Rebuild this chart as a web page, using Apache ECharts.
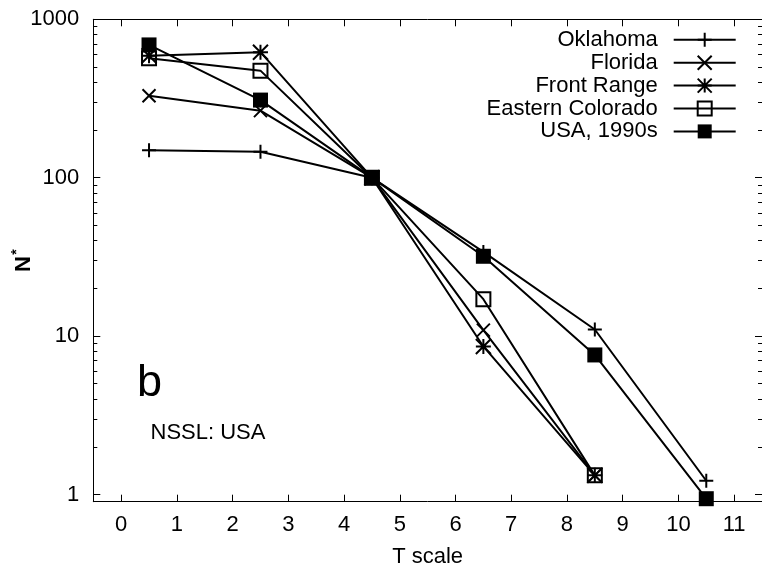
<!DOCTYPE html>
<html>
<head>
<meta charset="utf-8">
<script src="https://cdn.jsdelivr.net/npm/echarts@6/dist/echarts.min.js"></script>
<style>
html,body{margin:0;padding:0;background:#fff;}
#chart{width:762px;height:575px;}
</style>
</head>
<body>
<div id="chart"></div>
<script>
// ---- data ----
const tScale = [0.5, 2.5, 4.5, 6.5, 8.5, 10.5];
const xTicks = [0, 1, 2, 3, 4, 5, 6, 7, 8, 9, 10, 11];
const yTicks = [1, 10, 100, 1000];
const seriesNames = ['Oklahoma', 'Florida', 'Front Range', 'Eastern Colorado', 'USA, 1990s'];
const oklahoma = [149, 146, 100, 34, 11.0, 1.22];
const florida = [329, 265, 100, 10.9, 1.32];
const frontRange = [588, 620, 100, 8.6, 1.32];
const easternColorado = [568, 474, 100, 17.1, 1.32];
const usa1990s = [689, 309, 100, 31.9, 7.6, 0.94];

const FONT = 'Liberation Sans, Arial, Helvetica, sans-serif';
const chart = echarts.init(document.getElementById('chart'), null, {renderer: 'canvas'});

const PLUS = 'path://M0,-1L0,1M-1,0L1,0';
const CROSS = 'path://M-1,-1L1,1M-1,1L1,-1';
const STAR = 'path://M0,-1L0,1M-1,0L1,0M-1,-1L1,1M-1,1L1,-1';
const SQUARE = 'path://M-1,-1L1,-1L1,1L-1,1Z';

function mk(name, vals, symbol, size, style) {
  return {
    type: 'line',
    name: name,
    data: vals.map((v, i) => [tScale[i], v]),
    symbol: symbol,
    symbolSize: size,
    showAllSymbol: true,
    lineStyle: {color: '#000', width: 2},
    itemStyle: style,
    emphasis: {disabled: true},
    animation: false,
    z: 3
  };
}

const strokeStyle = {color: 'rgba(0,0,0,0)', borderColor: '#000', borderWidth: 2};

const axisLineStyle = {show: true, onZero: false, lineStyle: {color: '#000', width: 1}};

const xBase = {
  type: 'value', min: -0.5, max: 11.5,
  axisLine: axisLineStyle,
  splitLine: {show: false},
  axisTick: {show: true, inside: true, length: 7, lineStyle: {color: '#000'}, customValues: xTicks},
};
const yBase = {
  type: 'log', logBase: 10, min: 0.9, max: 1000,
  axisLine: axisLineStyle,
  splitLine: {show: false},
  axisTick: {show: true, inside: true, length: 7, lineStyle: {color: '#000'}},
  minorTick: {show: true, splitNumber: 9, length: 4, lineStyle: {color: '#000'}},
};

const option = {
  backgroundColor: '#fff',
  animation: false,
  grid: {left: 93.3, top: 19.3, width: 671.5, height: 482.4, containLabel: false},
  xAxis: [
    Object.assign({}, xBase, {
      position: 'bottom',
      name: 'T scale', nameLocation: 'middle', nameGap: 44,
      nameTextStyle: {fontSize: 22, fontFamily: FONT, color: '#000'},
      axisLabel: {show: true, customValues: xTicks, margin: 12, fontSize: 22, fontFamily: FONT, color: '#000'}
    }),
    Object.assign({}, xBase, {position: 'top', axisLabel: {show: false}})
  ],
  yAxis: [
    Object.assign({}, yBase, {
      position: 'left',
      axisLabel: {show: true, margin: 14, fontSize: 22, fontFamily: FONT, color: '#000',
        formatter: function (v) { return yTicks.indexOf(Math.round(v * 1000) / 1000) >= 0 ? String(Math.round(v)) : ''; }}
    }),
    Object.assign({}, yBase, {position: 'right', axisLabel: {show: false}})
  ],
  legend: {
    orient: 'vertical', right: 25.3, top: 28.8, padding: 0,
    align: 'right', itemWidth: 62, itemHeight: 17.5, itemGap: 0.9,
    selectedMode: false,
    textStyle: {fontSize: 22, fontFamily: FONT, color: '#000', padding: [0, 11, 0, 0]},
    data: seriesNames
  },
  graphic: [
    {type: 'text', left: 137, top: 361, style: {text: 'b', fontSize: 45, fontFamily: FONT, fill: '#000'}},
    {type: 'text', left: 150.5, top: 421.5, style: {text: 'NSSL: USA', fontSize: 22, fontFamily: FONT, fill: '#000'}},
    {type: 'text', x: 24, y: 264, rotation: Math.PI / 2, style: {text: 'N', fontSize: 22, fontWeight: 'bold', fontFamily: FONT, fill: '#000', align: 'center', verticalAlign: 'middle'}},
    {type: 'text', x: 17, y: 252, rotation: Math.PI / 2, style: {text: '*', fontSize: 14, fontWeight: 'bold', fontFamily: FONT, fill: '#000', align: 'center', verticalAlign: 'middle'}}
  ],
  series: [
    mk(seriesNames[0], oklahoma, PLUS, 14, strokeStyle),
    mk(seriesNames[1], florida, CROSS, 13, strokeStyle),
    mk(seriesNames[2], frontRange, STAR, 15, strokeStyle),
    mk(seriesNames[3], easternColorado, SQUARE, 14, strokeStyle),
    mk(seriesNames[4], usa1990s, 'rect', 15, {color: '#000', borderWidth: 0})
  ]
};
chart.setOption(option);
</script>
</body>
</html>
